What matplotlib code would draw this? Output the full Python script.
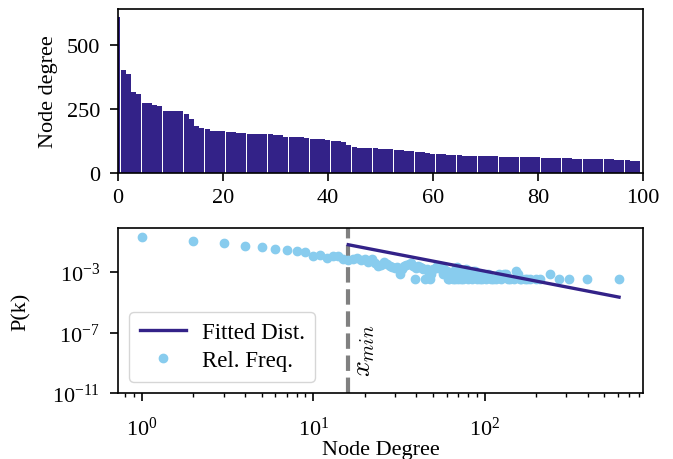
import matplotlib
matplotlib.use("Agg")
import matplotlib.pyplot as plt

plt.rcParams["font.family"] = ["Liberation Serif", "DejaVu Serif"]
plt.rcParams["mathtext.fontset"] = "cm"
plt.rcParams["font.size"] = 16
plt.rcParams["axes.linewidth"] = 1.2
plt.rcParams["xtick.major.width"] = 1.2
plt.rcParams["ytick.major.width"] = 1.2
plt.rcParams["xtick.major.size"] = 6
plt.rcParams["ytick.major.size"] = 6
plt.rcParams["xtick.minor.size"] = 3
plt.rcParams["xtick.minor.width"] = 1.0
plt.rcParams["ytick.major.pad"] = 7

# top 100 node degrees, sorted
top_degrees = [
    609, 402, 387, 316, 309, 273, 273, 266, 262, 242,
    242, 242, 242, 230, 211, 184, 176, 172, 164, 164,
    164, 160, 160, 156, 156, 152, 152, 152, 152, 152,
    148, 148, 141, 141, 141, 141, 137, 133, 133, 133,
    129, 125, 125, 121, 109, 102, 98, 98, 98, 98,
    94, 94, 94, 90, 90, 86, 86, 82, 82, 78,
    74, 74, 74, 70, 70, 70, 66, 66, 66, 66,
    66, 66, 66, 62, 62, 62, 62, 62, 62, 62,
    62, 59, 59, 59, 59, 59, 59, 55, 55, 55,
    55, 55, 55, 55, 55, 51, 51, 51, 47, 47,
]

# degree distribution (relative frequency)
deg_k = [
    1, 2, 3, 4, 5, 6, 7, 8, 9, 10,
    11, 12, 13, 14, 15, 16, 17, 18, 19, 20,
    21, 22, 23, 24, 25, 26, 27, 28, 29, 30,
    31, 32, 33, 34, 35, 36, 37, 38, 39, 40,
    41, 42, 43, 44, 45, 46, 47, 48, 49, 50,
    52, 53, 55, 56, 57, 58, 60, 61, 62, 63,
    65, 66, 67, 68, 69, 70, 72, 73, 74, 75,
    77, 78, 80, 82, 84, 86, 88, 90, 92, 94,
    96, 98, 102, 105, 109, 112, 116, 121, 125, 129,
    133, 137, 141, 148, 152, 156, 160, 164, 172, 176,
    184, 199, 211, 241, 270, 309, 395, 609,
]
deg_p = [
    2.19e-1, 1.23e-1, 8.7e-2, 5.1e-2, 4.3e-2, 3.6e-2, 2.7e-2, 2.4e-2, 2.0e-2, 1.2e-2,
    1.45e-2, 8.7e-3, 1.2e-2, 1.2e-2, 7.9e-3, 6.5e-3, 7.6e-3, 8.3e-3, 6.5e-3, 7.9e-3,
    4.5e-3, 7.2e-3, 3.9e-3, 2.6e-3, 3.0e-3, 4.4e-3, 3.7e-3, 2.6e-3, 2.2e-3, 1.85e-3,
    2.2e-3, 7.4e-4, 1.5e-3, 2.6e-3, 3.0e-3, 3.7e-3, 4.1e-3, 2.6e-3, 3.7e-4, 1.85e-3,
    2.6e-3, 2.2e-3, 1.85e-3, 1.5e-3, 3.7e-4, 1.5e-3, 1.1e-3, 3.7e-4, 7.4e-4, 1.5e-3,
    1.85e-3, 2.6e-3, 2.6e-3, 1.5e-3, 7.4e-4, 1.5e-3, 1.1e-3, 3.7e-4, 3.7e-4, 7.4e-4,
    3.7e-4, 1.1e-3, 3.7e-4, 1.85e-3, 2.2e-3, 3.7e-4, 7.4e-4, 3.7e-4, 1.1e-3, 3.7e-4,
    7.4e-4, 1.5e-3, 3.7e-4, 7.4e-4, 3.7e-4, 1.1e-3, 1.1e-3, 3.7e-4, 7.4e-4, 3.7e-4,
    3.7e-4, 7.4e-4, 3.7e-4, 7.4e-4, 3.7e-4, 3.7e-4, 3.7e-4, 7.4e-4, 3.7e-4, 7.4e-4,
    7.4e-4, 3.7e-4, 3.7e-4, 3.7e-4, 1.1e-3, 7.4e-4, 3.7e-4, 3.7e-4, 3.7e-4, 3.7e-4,
    3.7e-4, 3.7e-4, 3.7e-4, 7.4e-4, 3.7e-4, 3.7e-4, 3.7e-4, 3.7e-4,
]

# fitted power law, from x_min to max degree
fit_k = [16, 609]
fit_p = [6.5e-2, 2.2e-5]
x_min = 16

indigo = "#332288"
cyan = "#88CCEE"

fig = plt.figure(figsize=(6.73, 4.6), dpi=100)
ax1 = fig.add_axes([0.1753, 0.6217, 0.780, 0.3565])
ax2 = fig.add_axes([0.1753, 0.1435, 0.780, 0.3587])

ax1.bar(range(len(top_degrees)), top_degrees, width=0.95, color=indigo)
ax1.set_xlim(0, 100)
ax1.set_xticks([0, 20, 40, 60, 80, 100])
ax1.set_yticks([0, 250, 500])
ax1.tick_params(axis="x", pad=5)
ax1.set_ylabel("Node degree", labelpad=6)

ax2.plot(fit_k, fit_p, color=indigo, lw=2.4, label="Fitted Dist.", zorder=3)
ax2.plot(deg_k, deg_p, "o", color=cyan, ms=6, label="Rel. Freq.", zorder=2)
ax2.set_xscale("log")
ax2.set_yscale("log")
ax2.axvline(x_min, color="grey", ls="--", lw=3, zorder=1)
ax2.text(x_min * 1.05, 1.3e-10, "$x_{min}$", rotation=90, ha="left", va="bottom",
         fontsize=20)
ax2.set_ylim(1e-11, 0.83)
ax2.set_yticks([1e-3, 1e-7, 1e-11])
ax2.yaxis.set_minor_locator(matplotlib.ticker.NullLocator())
ax2.tick_params(axis="x", which="major", pad=11)
ax2.set_xlabel("Node Degree", labelpad=0)
ax2.set_ylabel("P(k)", labelpad=15)
ax2.legend(loc="lower left", framealpha=0.8, handlelength=2.0, handletextpad=0.7,
           labelspacing=0.3, borderpad=0.45, fontsize=16.5)

fig.savefig("out.png", dpi=100)
